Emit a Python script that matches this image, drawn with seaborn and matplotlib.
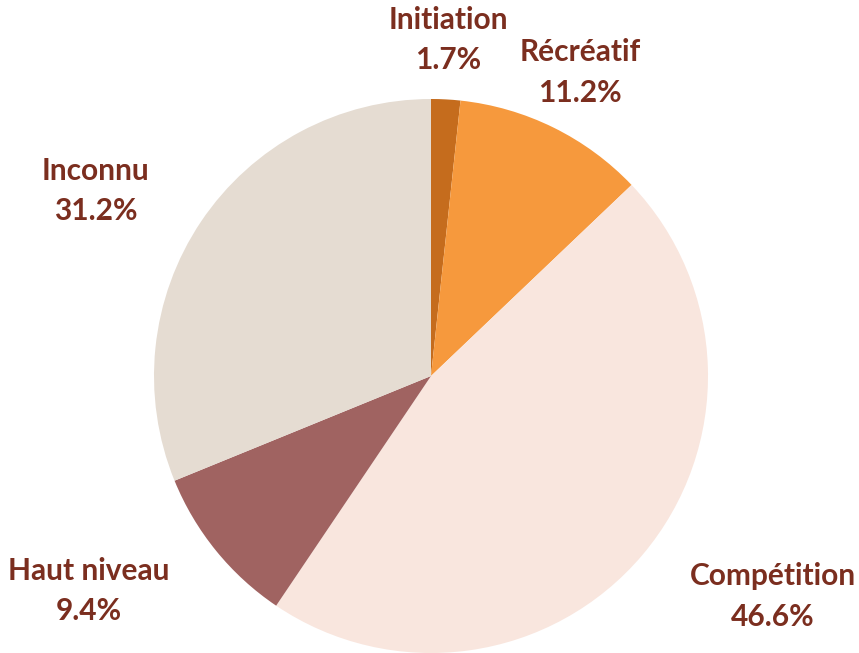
import matplotlib
matplotlib.use("Agg")
import matplotlib.pyplot as plt
import seaborn as sns
import numpy as np

sns.set_theme(style="white")
plt.rcParams['font.family'] = ['Lato', 'DejaVu Sans']

categories = ["Initiation", "Récréatif", "Compétition", "Haut niveau", "Inconnu"]
values = [1.7, 11.2, 46.6, 9.4, 31.2]
colors = ["#c56c1d", "#f6993d", "#f9e6de", "#a06361", "#e5dcd2"]
text_color = "#7b2e1f"

fig = plt.figure(figsize=(8.59, 6.53), dpi=100)
ax = fig.add_axes([154/859, 0.0, 554/859, 554/653])
wedges, _ = ax.pie(values, colors=colors, startangle=90, counterclock=False,
                   wedgeprops=dict(linewidth=0))
ax.set_xlim(-1, 1)
ax.set_ylim(-1, 1)

# label anchor positions (layout, in axes data units)
label_pos = [(0.061, 1.213), (0.538, 1.095), (1.235, -0.797), (-1.235, -0.776), (-1.21, 0.668)]
for (x, y), name, v in zip(label_pos, categories, values):
    ax.text(x, y, f"{name}\n{v:.1f}%", ha="center", va="center", fontsize=21.5,
            fontweight="bold", color=text_color, linespacing=1.55, clip_on=False)

fig.savefig("out.png", dpi=100)
